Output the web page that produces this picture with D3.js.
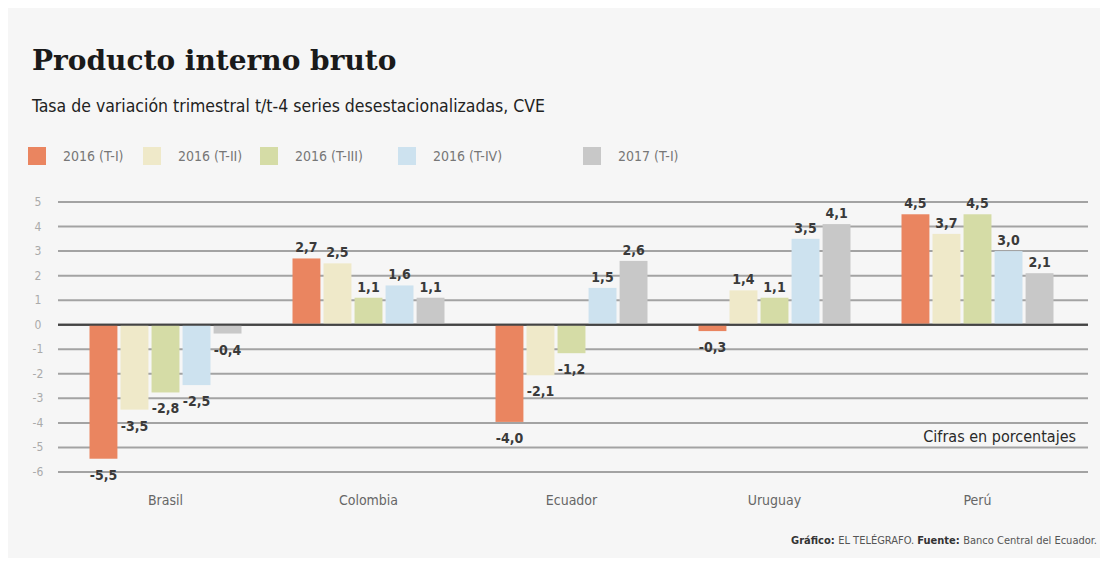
<!DOCTYPE html>
<html>
<head>
<meta charset="utf-8">
<script src="https://cdn.jsdelivr.net/npm/d3@7"></script>
<style>
  body { margin: 0; background: #fff; }
  #chart { width: 1104px; height: 563px; }
  text { font-family: 'DejaVu Sans Condensed', 'DejaVu Sans', sans-serif; }
</style>
</head>
<body>
<div id="chart"></div>
<script>
// Data
const countries = ['Brasil', 'Colombia', 'Ecuador', 'Uruguay', 'Perú']
const periods = ['2016 (T-I)', '2016 (T-II)', '2016 (T-III)', '2016 (T-IV)', '2017 (T-I)']
const colors = ['#ea8560', '#efe9c9', '#d5dca6', '#cde2ef', '#c8c8c8']
const brasil = [-5.5, -3.5, -2.8, -2.5, -0.4]
const colombia = [2.7, 2.5, 1.1, 1.6, 1.1]
const ecuador = [-4.0, -2.1, -1.2, 1.5, 2.6]
const uruguay = [-0.3, 1.4, 1.1, 3.5, 4.1]
const peru = [4.5, 3.7, 4.5, 3.0, 2.1]
const yTicks = [-6, -5, -4, -3, -2, -1, 0, 1, 2, 3, 4, 5]

const values = [brasil, colombia, ecuador, uruguay, peru]

const width = 1104
const height = 563

const svg = d3.select('#chart').append('svg')
  .attr('width', width)
  .attr('height', height)

// Panel background
svg.append('rect')
  .attr('x', 8).attr('y', 8)
  .attr('width', 1092).attr('height', 550)
  .attr('fill', '#f6f6f6')

// Title and subtitle
svg.append('text')
  .attr('x', 32).attr('y', 70)
  .style('font-family', "'DejaVu Serif', serif")
  .style('font-weight', 'bold')
  .style('font-size', '28px')
  .attr('fill', '#1a1a1a')
  .text('Producto interno bruto')

svg.append('text')
  .attr('x', 32).attr('y', 112)
  .style('font-size', '17.5px')
  .attr('fill', '#222')
  .text('Tasa de variación trimestral t/t-4 series desestacionalizadas, CVE')

// Legend
const legendX = [28, 143, 260, 398, 583]
const legend = svg.append('g').attr('class', 'legend')
periods.forEach((p, i) => {
  legend.append('rect')
    .attr('x', legendX[i]).attr('y', 147)
    .attr('width', 18).attr('height', 18)
    .attr('fill', colors[i])
  legend.append('text')
    .attr('x', legendX[i] + 35).attr('y', 161)
    .style('font-size', '14px')
    .attr('fill', '#777')
    .text(p)
})

// Scales
const y = d3.scaleLinear().domain([-6, 5]).range([472, 202])
const x0 = d3.scaleBand().domain(countries).range([64, 1079]).paddingInner(0).paddingOuter(0)
const groupWidth = 152
const x1 = d3.scaleBand().domain(periods).range([0, groupWidth]).paddingInner(0.1)

// Gridlines
svg.append('g')
  .selectAll('line')
  .data(yTicks)
  .join('line')
  .attr('x1', 58).attr('x2', 1088)
  .attr('y1', d => y(d)).attr('y2', d => y(d))
  .attr('stroke', d => d === 0 ? '#444' : '#a3a3a3')
  .attr('stroke-width', 2)

// Y tick labels
svg.append('g')
  .selectAll('text')
  .data(yTicks)
  .join('text')
  .attr('x', 38).attr('y', d => y(d) + 4)
  .attr('text-anchor', 'middle')
  .style('font-size', '12px')
  .attr('fill', '#aaa')
  .text(d => d)

// Bars
const fmt = v => d3.format('.1f')(v).replace('.', ',').replace('−', '-')
countries.forEach((c, ci) => {
  const gx = x0(c) + (x0.bandwidth() - groupWidth) / 2
  const g = svg.append('g').attr('transform', `translate(${gx},0)`)
  values[ci].forEach((v, pi) => {
    g.append('rect')
      .attr('x', x1(periods[pi]))
      .attr('y', y(Math.max(0, v)))
      .attr('width', x1.bandwidth())
      .attr('height', Math.abs(y(v) - y(0)) - (v === 0 ? 0 : 1))
      .attr('fill', colors[pi])
    g.append('text')
      .attr('x', x1(periods[pi]) + x1.bandwidth() / 2)
      .attr('y', v >= 0 ? y(v) - 6 : y(v) + 20)
      .attr('text-anchor', 'middle')
      .style('font-size', '14px')
      .style('font-weight', 'bold')
      .attr('fill', '#3a3a3a')
      .text(fmt(v))
  })
  // Category label
  svg.append('text')
    .attr('x', x0(c) + x0.bandwidth() / 2)
    .attr('y', 505)
    .attr('text-anchor', 'middle')
    .style('font-size', '14px')
    .attr('fill', '#666')
    .text(c)
})

// Redraw zero line above bars
svg.append('line')
  .attr('x1', 58).attr('x2', 1088)
  .attr('y1', y(0)).attr('y2', y(0))
  .attr('stroke', '#444')
  .attr('stroke-width', 2)

// Note
svg.append('text')
  .attr('x', 1076).attr('y', 442)
  .attr('text-anchor', 'end')
  .style('font-size', '16px')
  .attr('fill', '#2a2a2a')
  .text('Cifras en porcentajes')

// Footer
const footer = svg.append('text')
  .attr('x', 1097).attr('y', 544)
  .attr('text-anchor', 'end')
  .style('font-size', '11px')
  .attr('fill', '#555')
footer.append('tspan').style('font-weight', 'bold').attr('fill', '#333').text('Gráfico: ')
footer.append('tspan').text('EL TELÉGRAFO. ')
footer.append('tspan').style('font-weight', 'bold').attr('fill', '#333').text('Fuente: ')
footer.append('tspan').text('Banco Central del Ecuador.')
</script>
</body>
</html>
